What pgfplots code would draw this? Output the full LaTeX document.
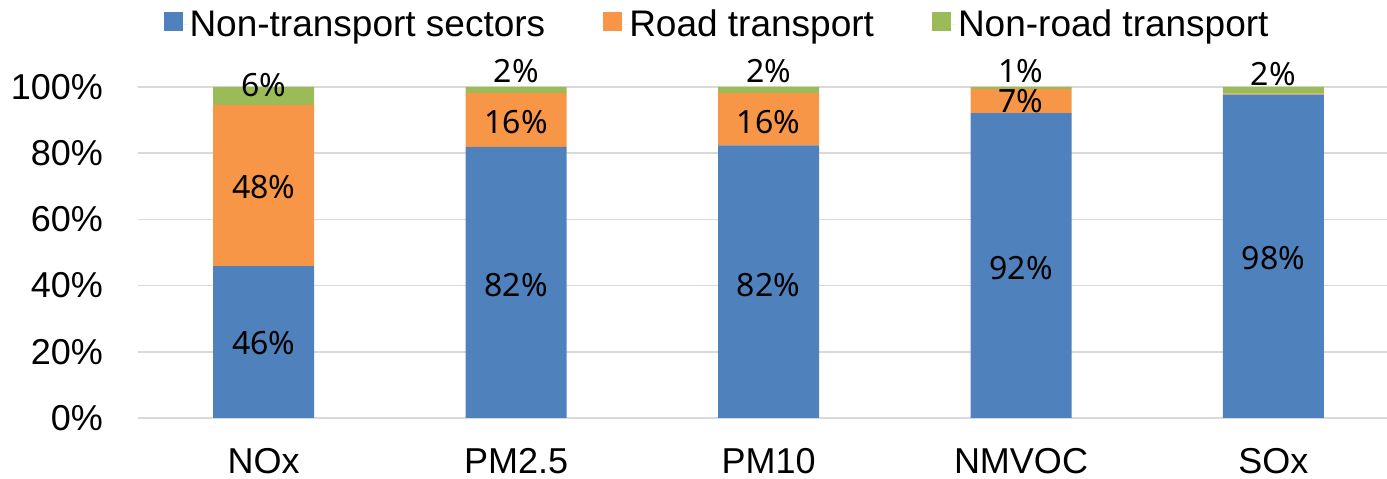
\documentclass[border=0pt]{standalone}
\usepackage{fontspec}
\setmainfont{Liberation Sans}
\newfontfamily\lblfont{Noto Sans}
\usepackage{pgfplots}
\pgfplotsset{compat=1.18}
\definecolor{cblue}{HTML}{4F81BD}
\definecolor{corange}{HTML}{F79646}
\definecolor{cgreen}{HTML}{9BBB59}
\definecolor{cgrid}{HTML}{D9D9D9}
\begin{document}
\begin{tikzpicture}[x=1pt,y=1pt]
\path[use as bounding box] (0,0) rectangle (1387,479);
\pgfplotsset{base/.style={scale only axis, width=1249.5pt, height=331pt,
  xmin=-0.5, xmax=4.45, ymin=0, ymax=100, at={(137.5pt,61pt)}, anchor=south west}}
\begin{axis}[base, ybar stacked, bar width=101pt,
  axis line style={draw=none},
  ymajorgrids, grid style={cgrid, line width=1.5pt},
  xtick={0,...,4}, xticklabels={NOx,PM2.5,PM10,NMVOC,SOx},
  ytick={0,20,...,100}, yticklabels={0\%,20\%,40\%,60\%,80\%,100\%},
  major tick length=0pt,
  tick label style={font=\fontsize{36}{40}\selectfont},
  yticklabel style={xshift=-31pt},
  xticklabel style={yshift=-27pt},
  area legend,
  legend image code/.code={\fill[#1] (0pt,-7pt) rectangle (19pt,12pt); \path (0pt,0pt) -- (24pt,0pt);},
  legend style={at={(0.4638,1.19)}, anchor=center, legend columns=-1, draw=none, fill=none,
    font=\fontsize{37}{40}\selectfont,
    /tikz/every even column/.append style={column sep=56pt}},
]
\addplot[fill=cblue, draw=none] coordinates {(0,45.9) (1,81.9) (2,82.4) (3,92.1) (4,97.7)};
\addplot[fill=corange, draw=none] coordinates {(0,48.7) (1,16.3) (2,15.8) (3,7.3) (4,0.3)};
\addplot[fill=cgreen, draw=none] coordinates {(0,5.4) (1,1.8) (2,1.8) (3,0.6) (4,2.0)};
\legend{Non-transport sectors, Road transport, Non-road transport}
\end{axis}
\begin{axis}[base, hide axis, clip=false]
\addplot[only marks, mark=*, mark size=0pt, mark options={draw=none, fill=none},
  nodes near coords={\pgfplotspointmeta\%}, point meta=explicit symbolic,
  every node near coord/.style={anchor=center, inner sep=0pt, font=\lblfont\fontsize{32}{36}\selectfont}]
  table[meta=lab] {
x y lab
0 22.7 46
0 69.8 48
0 100.6 6
1 40.2 82
1 89.4 16
1 104.8 2
2 40.2 82
2 89.4 16
2 104.8 2
3 45.3 92
3 95.8 7
3 104.8 1
4 48.3 98
4 103.9 2
};
\end{axis}
\end{tikzpicture}
\end{document}
